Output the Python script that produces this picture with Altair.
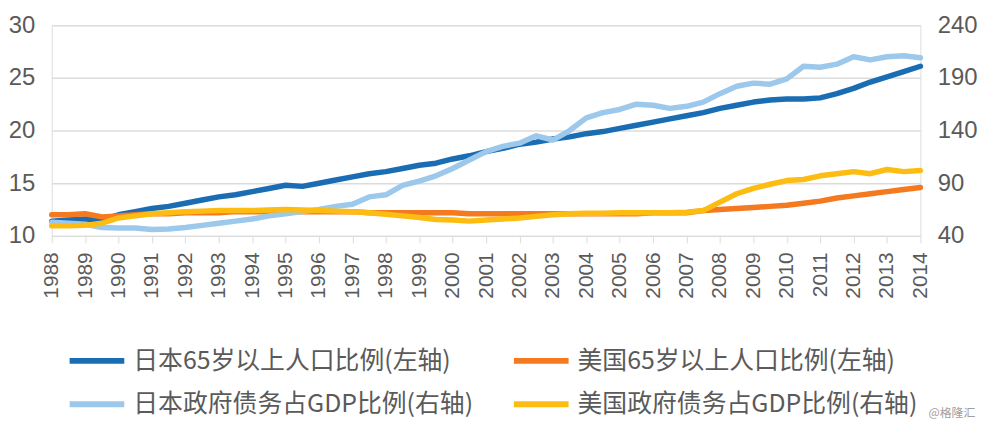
import altair as alt
import pandas as pd

# half-year time grid 1988.0 ... 2014.0
periods = [1988 + i / 2 for i in range(53)]

japan_65 = [11.4, 11.5, 11.6, 11.5, 12.0, 12.3, 12.6, 12.8, 13.1, 13.4,
            13.7, 13.9, 14.2, 14.5, 14.8, 14.7, 15.0, 15.3, 15.6, 15.9,
            16.1, 16.4, 16.7, 16.9, 17.3, 17.6, 18.0, 18.3, 18.7, 18.9,
            19.2, 19.4, 19.7, 19.9, 20.2, 20.5, 20.8, 21.1, 21.4, 21.7,
            22.1, 22.4, 22.7, 22.9, 23.0, 23.0, 23.1, 23.5, 24.0, 24.6,
            25.1, 25.6, 26.1]

us_65 = [12.0, 12.0, 12.1, 11.8, 11.9, 12.0, 12.1, 12.1, 12.2, 12.2,
         12.2, 12.3, 12.3, 12.3, 12.3, 12.3, 12.3, 12.3, 12.3, 12.2,
         12.2, 12.2, 12.2, 12.2, 12.2, 12.1, 12.1, 12.1, 12.1, 12.1,
         12.1, 12.1, 12.1, 12.1, 12.1, 12.1, 12.2, 12.2, 12.2, 12.4,
         12.5, 12.6, 12.7, 12.8, 12.9, 13.1, 13.3, 13.6, 13.8, 14.0,
         14.2, 14.4, 14.6]

japan_debt = [53, 52, 51, 48, 47.5, 47.5, 46, 46.5, 48, 50,
              52, 54, 56, 59, 61, 63, 65, 68, 70, 77,
              79, 88, 92, 97, 104, 112, 120, 125, 128, 135,
              131, 140, 152, 157, 160, 165, 164, 161, 163, 167,
              175, 182, 185, 184, 189, 201, 200, 203, 210, 207,
              210, 211, 209]

us_debt = [49.5, 49.5, 50, 52, 57, 59, 61, 62, 63, 63.5,
           64, 64, 64, 64.5, 65, 64.5, 64, 63.5, 63, 62,
           60.5, 59, 57.5, 55.5, 55, 54, 55, 56, 57, 58.5,
           60, 61, 61.5, 61.5, 62, 62, 62, 62, 62.5, 64,
           72, 80, 85, 89, 92.5, 93.5, 97, 99, 101, 99,
           103, 101, 102]

series_names = ["日本65岁以上人口比例(左轴)", "美国65岁以上人口比例(左轴)",
                "日本政府债务占GDP比例(右轴)", "美国政府债务占GDP比例(右轴)"]
series_colors = ["#1a6db3", "#f5791f", "#9cc8ec", "#fcbc12"]
# legend fills column by column: first column Japan, second column US
legend_order = [series_names[0], series_names[2], series_names[1], series_names[3]]

left_ticks = [10, 15, 20, 25, 30]
right_ticks = [40, 90, 140, 190, 240]
year_ticks = list(range(1988, 2015))

left_df = pd.concat([
    pd.DataFrame({"t": periods, "v": japan_65, "s": series_names[0]}),
    pd.DataFrame({"t": periods, "v": us_65, "s": series_names[1]}),
])
right_df = pd.concat([
    pd.DataFrame({"t": periods, "v": japan_debt, "s": series_names[2]}),
    pd.DataFrame({"t": periods, "v": us_debt, "s": series_names[3]}),
])

label_color = "#5a5a5a"
grid_color = "#dcdcdc"

x_enc = alt.X("t:Q", scale=alt.Scale(domain=[1988, 2014], nice=False, zero=False),
              axis=alt.Axis(values=year_ticks, format="d", labelAngle=270,
                            labelFontSize=21, labelColor=label_color,
                            labelFont="Liberation Sans", labelFlush=False,
                            labelOverlap=False, labelPadding=9, tickSize=7,
                            tickColor=grid_color, domainColor=grid_color,
                            grid=False, title=None))

color_enc = alt.Color("s:N", scale=alt.Scale(domain=series_names, range=series_colors),
                      legend=alt.Legend(title=None, orient="none", legendX=15, legendY=307,
                                        values=legend_order,
                                        columns=2, columnPadding=28, rowPadding=-18,
                                        symbolType="stroke", symbolSize=3025,
                                        symbolStrokeWidth=6, labelFontSize=25,
                                        labelFont="Noto Sans CJK SC", labelColor=label_color,
                                        labelOffset=6, padding=0, labelLimit=600))

line_style = dict(strokeWidth=5.5, strokeCap="round", strokeJoin="round")

left = alt.Chart(left_df).mark_line(**line_style).encode(
    x=x_enc,
    y=alt.Y("v:Q", scale=alt.Scale(domain=[10, 30], nice=False, zero=False),
            axis=alt.Axis(values=left_ticks, orient="left", grid=True, gridColor=grid_color,
                          gridWidth=1.5, domain=False, ticks=False, labelFontSize=24,
                          labelColor=label_color, labelFont="Liberation Sans",
                          labelPadding=17, labelFlush=False, title=None)),
    color=color_enc,
    detail="s:N",
)

right = alt.Chart(right_df).mark_line(**line_style).encode(
    x=x_enc,
    y=alt.Y("v:Q", scale=alt.Scale(domain=[40, 240], nice=False, zero=False),
            axis=alt.Axis(values=right_ticks, orient="right", grid=False, domain=False,
                          ticks=False, labelFontSize=24, labelColor=label_color,
                          labelFont="Liberation Sans", labelPadding=17,
                          labelFlush=False, title=None)),
    color=color_enc,
    detail="s:N",
)

watermark = alt.Chart(pd.DataFrame({"txt": ["@格隆汇"]})).mark_text(
    align="left", baseline="middle", fontSize=12, color="#a0a0a0",
    font="Noto Sans CJK SC").encode(
    text="txt:N", x=alt.value(882), y=alt.value(390))

chart = alt.layer(left, right, watermark).resolve_scale(y="independent").properties(
    width=874, height=212,
    autosize=alt.AutoSizeParams(type="none"),
    padding={"left": 44, "top": 16, "right": 72, "bottom": 188},
).configure_view(stroke=None).configure(background="white")

chart.save("out.html", embed_options={"renderer": "svg", "actions": False})
